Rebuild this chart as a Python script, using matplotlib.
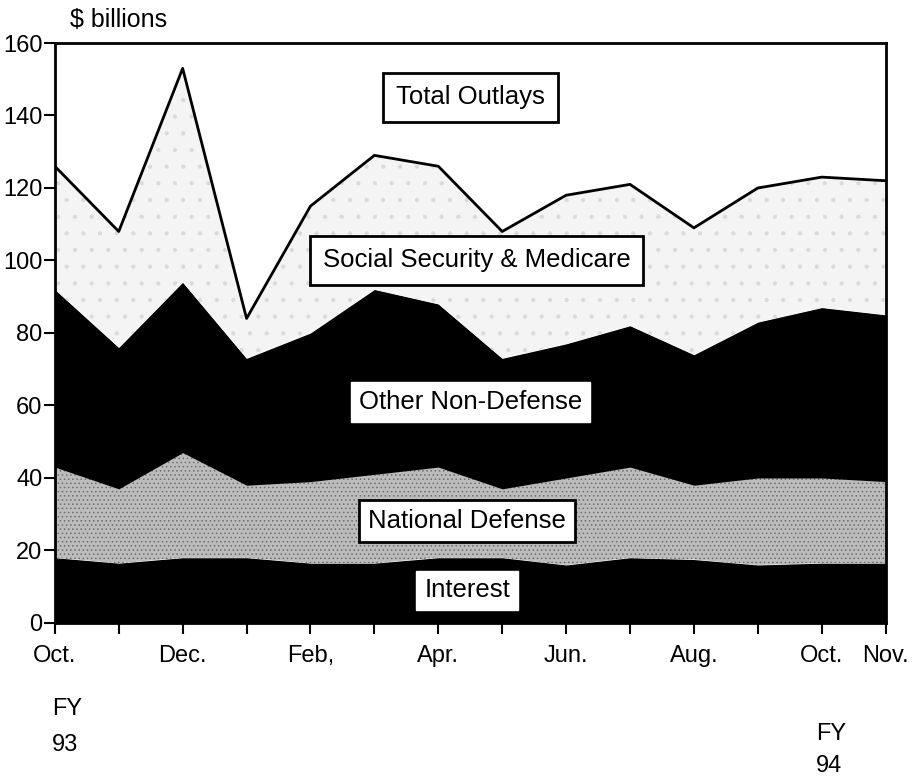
import numpy as np
import matplotlib
matplotlib.use('Agg')
import matplotlib.pyplot as plt

# Monthly outlays, Oct FY93 .. Nov FY94 ($ billions)
months = ['Oct.', '', 'Dec.', '', 'Feb,', '', 'Apr.', '', 'Jun.', '', 'Aug.', '', 'Oct.', 'Nov.']
interest = [18, 16.5, 18, 18, 16.5, 16.5, 18, 18, 16, 18, 17.5, 16, 16.5, 16.5]
defense = [25, 20.5, 29, 20, 22.5, 24.5, 25, 19, 24, 25, 20.5, 24, 23.5, 22.5]
other_nondef = [49, 39, 47, 35, 41, 51, 45, 36, 37, 39, 36, 43, 47, 46]
ss_medicare = [34, 32, 59, 11, 35, 37, 38, 35, 41, 39, 35, 37, 36, 37]

plt.rcParams['font.family'] = ['Liberation Sans', 'DejaVu Sans']
plt.rcParams['hatch.linewidth'] = 0.6

x = np.arange(len(months))
fig = plt.figure(figsize=(9.14, 7.79), dpi=100)
ax = fig.add_axes([0.060, 0.2003, 0.909, 0.7445])

b1 = np.array(interest)
b2 = b1 + np.array(defense)
b3 = b2 + np.array(other_nondef)
b4 = b3 + np.array(ss_medicare)

ax.fill_between(x, 0, b1, color='black', lw=0)
ax.fill_between(x, b1, b2, facecolor='#bcbcbc', edgecolor='#6e6e6e', hatch='....', lw=0)
ax.fill_between(x, b2, b3, color='black', lw=0)
ax.fill_between(x, b3, b4, facecolor='#f4f4f4', edgecolor='#dadada', hatch='.', lw=0)
ax.plot(x, b4, color='black', lw=2)

ax.set_xlim(0, len(months) - 1)
ax.set_ylim(0, 160)
ax.set_yticks(range(0, 161, 20))
ax.set_xticks(x)
ax.set_xticklabels(months)
ax.tick_params(axis='both', labelsize=17, width=1.5, length=8, direction='out')
ax.tick_params(axis='x', pad=8)
ax.tick_params(axis='y', pad=1)
for s in ax.spines.values():
    s.set_linewidth(2)

fs = 18.5
box = dict(boxstyle='square,pad=0.5', facecolor='white', edgecolor='black', lw=2)
ax.text(6.5, 145, 'Total Outlays', fontsize=fs, ha='center', va='center', bbox=box)
ax.text(6.6, 100, 'Social Security & Medicare', fontsize=fs, ha='center', va='center', bbox=box)
ax.text(6.5, 61, 'Other Non-Defense', fontsize=fs, ha='center', va='center',
        bbox=dict(boxstyle='square,pad=0.3', facecolor='white', edgecolor='white'))
ax.text(6.45, 28, 'National Defense', fontsize=fs, ha='center', va='center',
        bbox=dict(boxstyle='square,pad=0.35', facecolor='white', edgecolor='black', lw=2))
ax.text(6.45, 9, 'Interest', fontsize=fs, ha='center', va='center',
        bbox=dict(boxstyle='square,pad=0.3', facecolor='white', edgecolor='white'))

fig.text(70 / 914, 1 - 20 / 779, '$ billions', fontsize=18, ha='left', va='center')
fig.text(52 / 914, 1 - 727 / 779, 'FY\n93', fontsize=17, ha='left', va='center', linespacing=1.85)
fig.text(816 / 914, 1 - 750 / 779, 'FY\n94', fontsize=17, ha='left', va='center', linespacing=1.55)

fig.savefig('out.png', dpi=100)
